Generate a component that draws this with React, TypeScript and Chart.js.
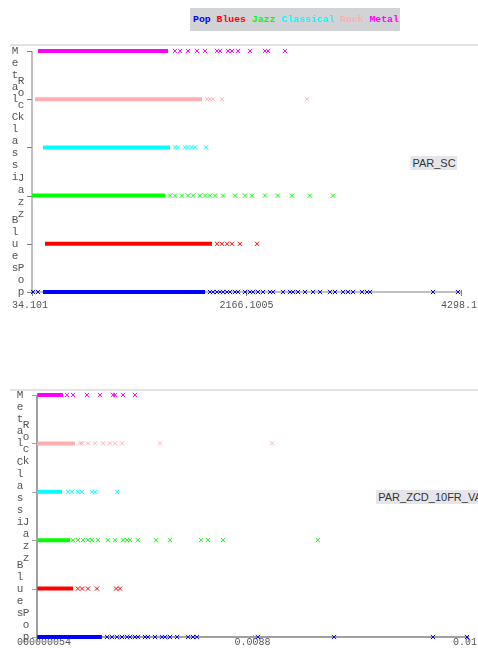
import React, { useEffect, useRef } from "react";
import { Chart, registerables } from "chart.js";
Chart.register(...registerables);

const CLASSES = ["Pop", "Blues", "Jazz", "Classical", "Rock", "Metal"];
const Y_LABELS = ["Pop", "Blues", "Jazz", "Classi", "Rock", "Metal"];
const CLASS_COLORS = ["#0000ff", "#ff0000", "#00ff00", "#00ffff", "#ffafaf", "#ff00ff"];

// ---- PAR_SC ----
const SC_NAME = "PAR_SC";
const SC_MIN = 34.101;
const SC_MAX = 4298.1;
const SC_X_TICKS = ["34.101", "2166.1005", "4298.1"];
const SC_DENSE_START = [143, 163, 34, 143, 64, 94];
const SC_DENSE_END = [1754, 1823, 1356, 1406, 1724, 1386];
const SC_POP = [44, 94, 1803, 1833, 1873, 1903, 1932, 1972, 2002, 2052, 2082, 2151, 2201, 2231, 2280, 2330, 2400, 2430, 2529, 2598, 2628, 2678, 2748, 2827, 2897, 2996, 3046, 3125, 3175, 3225, 3314, 3364, 3394, 4020, 4268];
const SC_BLUES = [1873, 1922, 1972, 2022, 2101, 2270];
const SC_JAZZ = [1406, 1455, 1525, 1585, 1634, 1704, 1754, 1803, 1853, 1932, 2052, 2151, 2221, 2350, 2479, 2618, 2797, 3026];
const SC_CLASSICAL = [1455, 1485, 1555, 1585, 1624, 1654, 1764];
const SC_ROCK = [1774, 1803, 1833, 1922, 2767];
const SC_METAL = [1455, 1505, 1585, 1674, 1754, 1873, 1903, 1982, 2022, 2082, 2201, 2350, 2380, 2549];

// ---- PAR_ZCD_10FR_VAR ----
const ZCD_NAME = "PAR_ZCD_10FR_VAR";
const ZCD_MIN = 0;
const ZCD_MAX = 0.0176;
const ZCD_X_TICKS = ["000000054", "0.0088", "0.01"];
const ZCD_DENSE_START = [0.00001, 0.00001, 0.00001, 0.00001, 0.00001, 0.00001];
const ZCD_DENSE_END = [0.00265, 0.00147, 0.00135, 0.00102, 0.00155, 0.00106];
const ZCD_POP = [0.00286, 0.00306, 0.00327, 0.00347, 0.00368, 0.0038, 0.004, 0.00412, 0.00441, 0.00453, 0.00482, 0.0051, 0.00523, 0.00543, 0.00572, 0.00617, 0.00637, 0.00653, 0.00902, 0.01213, 0.01617, 0.01756];
const ZCD_BLUES = [0.00167, 0.00184, 0.00208, 0.00245, 0.00323, 0.00339];
const ZCD_JAZZ = [0.00147, 0.00167, 0.00188, 0.00208, 0.00225, 0.00249, 0.0029, 0.00319, 0.00351, 0.00368, 0.0038, 0.00412, 0.00486, 0.00543, 0.0067, 0.00698, 0.0076, 0.01147];
const ZCD_CLASSICAL = [0.00127, 0.00143, 0.00167, 0.00184, 0.00225, 0.00237, 0.00327];
const ZCD_ROCK = [0.00176, 0.00184, 0.00208, 0.00237, 0.0027, 0.00298, 0.00319, 0.00347, 0.00502, 0.0096];
const ZCD_METAL = [0.00123, 0.00147, 0.00204, 0.00257, 0.0031, 0.00319, 0.00351, 0.004];

const TEXT_COLOR = "#555555";

const axesPlugin = {
  id: "wekaAxes",
  beforeDatasetsDraw(chart: any, _args: any, opts: any) {
    const ctx = chart.ctx;
    const xs = chart.scales.x;
    const ys = chart.scales.y;
    const left = xs.getPixelForValue(xs.min);
    const right = xs.getPixelForValue(xs.max);
    const top = ys.getPixelForValue(ys.max);
    const bottom = ys.getPixelForValue(ys.min);
    ctx.save();
    // panel border line
    ctx.strokeStyle = "#e2e2e6";
    ctx.lineWidth = 2;
    ctx.beginPath();
    ctx.moveTo(10, top - opts.borderGap);
    ctx.lineTo(chart.width, top - opts.borderGap);
    ctx.stroke();
    // axes
    ctx.strokeStyle = opts.axisColor;
    ctx.lineWidth = opts.axisWidth;
    ctx.beginPath();
    ctx.moveTo(left, top);
    ctx.lineTo(left, bottom);
    ctx.lineTo(right, bottom);
    ctx.stroke();
    ctx.lineWidth = 1;
    // y ticks
    for (let i = 0; i < CLASSES.length; i++) {
      const py = Math.round(ys.getPixelForValue(i)) + 0.5;
      ctx.beginPath();
      ctx.moveTo(left - 5, py);
      ctx.lineTo(left, py);
      ctx.stroke();
    }
    // x ticks
    const mid = (xs.min + xs.max) / 2;
    [xs.min, mid, xs.max].forEach((v) => {
      const px = Math.round(xs.getPixelForValue(v)) + 0.5;
      ctx.beginPath();
      ctx.moveTo(px, bottom - 2);
      ctx.lineTo(px, bottom + 4);
      ctx.stroke();
    });
    // x labels
    ctx.fillStyle = TEXT_COLOR;
    ctx.font = "10px 'Liberation Mono', monospace";
    ctx.textBaseline = "alphabetic";
    const ticks: string[] = opts.xTicks;
    ctx.textAlign = "left";
    ctx.fillText(ticks[0], left - 20, opts.xLabelY);
    ctx.textAlign = "center";
    ctx.fillText(ticks[1], xs.getPixelForValue(mid), opts.xLabelY);
    ctx.textAlign = "right";
    ctx.fillText(ticks[2], chart.width - 1, opts.xLabelY);
    // y labels: vertical stacked characters
    ctx.font = "11px 'Liberation Mono', monospace";
    ctx.textAlign = "center";
    ctx.textBaseline = "middle";
    const sp = 12;
    for (let i = 0; i < Y_LABELS.length; i++) {
      const txt = Y_LABELS[i];
      const n = txt.length;
      const t = ys.getPixelForValue(i);
      let start = t - ((n - 1) * sp) / 2;
      if (start < top) start = top;
      if (start + (n - 1) * sp > bottom) start = bottom - (n - 1) * sp;
      const cx = left - (i % 2 === 0 ? 11 : 17);
      for (let k = 0; k < n; k++) {
        ctx.fillText(txt[k], cx, start + k * sp);
      }
    }
    ctx.restore();
  },
};

type PlotProps = {
  min: number;
  max: number;
  xTicks: string[];
  denseStart: number[];
  denseEnd: number[];
  points: number[][];
  height: number;
  padding: { left: number; right: number; top: number; bottom: number };
  axisColor: string;
  axisWidth: number;
  xLabelY: number;
  borderGap: number;
};

function Plot(p: PlotProps) {
  const ref = useRef<HTMLCanvasElement | null>(null);
  useEffect(() => {
    if (!ref.current) return;
    const datasets: any[] = [];
    for (let i = 0; i < CLASSES.length; i++) {
      datasets.push({
        label: CLASSES[i] + " dense",
        data: [
          { x: p.denseStart[i], y: i },
          { x: p.denseEnd[i], y: i },
        ],
        showLine: true,
        borderColor: CLASS_COLORS[i],
        backgroundColor: CLASS_COLORS[i],
        borderWidth: 4,
        pointRadius: 0,
        clip: false,
        order: CLASSES.length - i,
      });
      datasets.push({
        label: CLASSES[i],
        data: p.points[i].map((x) => ({ x, y: i })),
        showLine: false,
        pointStyle: "crossRot",
        pointRadius: 3,
        borderColor: CLASS_COLORS[i],
        backgroundColor: CLASS_COLORS[i],
        borderWidth: 1,
        clip: false,
        order: CLASSES.length - i,
      });
    }
    const chart = new Chart(ref.current, {
      type: "scatter",
      data: { datasets },
      options: {
        animation: false,
        responsive: false,
        events: [],
        layout: { padding: p.padding },
        scales: {
          x: { type: "linear", min: p.min, max: p.max, display: false },
          y: { type: "linear", min: 0, max: 5, display: false },
        },
        plugins: {
          legend: { display: false },
          tooltip: { enabled: false },
          wekaAxes: {
            xTicks: p.xTicks,
            axisColor: p.axisColor,
            axisWidth: p.axisWidth,
            xLabelY: p.xLabelY,
            borderGap: p.borderGap,
          },
        } as any,
      },
      plugins: [axesPlugin],
    });
    return () => chart.destroy();
  }, []);
  return <canvas ref={ref} width={478} height={p.height} style={{ display: "block" }} />;
}

const labelBox: React.CSSProperties = {
  position: "absolute",
  transform: "translateX(-50%)",
  whiteSpace: "nowrap",
  font: "11px 'Liberation Sans', Arial, sans-serif",
  color: "#333",
  background: "#e6e6ea",
  padding: "1px 2px",
  lineHeight: "12px",
};

export default function App() {
  useEffect(() => {
    document.body.style.margin = "0";
  }, []);
  const legendSpans = CLASSES.map((c, i) => (
    <span key={c} style={{ color: CLASS_COLORS[i] }}>
      {c}
      {i < CLASSES.length - 1 ? " " : ""}
    </span>
  ));
  return (
    <div style={{ position: "relative", width: 478, height: 655, overflow: "hidden", background: "#fff" }}>
      <div
        style={{
          position: "absolute",
          left: 190,
          top: 8,
          width: 210,
          height: 23,
          background: "#d2d3d7",
          font: "bold 9.8px 'Liberation Mono', monospace",
          lineHeight: "23px",
          paddingLeft: 3,
          boxSizing: "border-box",
          whiteSpace: "pre",
        }}
      >
        {legendSpans}
      </div>
      <div style={{ position: "absolute", left: 0, top: 40 }}>
        <Plot
          min={SC_MIN}
          max={SC_MAX}
          xTicks={SC_X_TICKS}
          denseStart={SC_DENSE_START}
          denseEnd={SC_DENSE_END}
          points={[SC_POP, SC_BLUES, SC_JAZZ, SC_CLASSICAL, SC_ROCK, SC_METAL]}
          height={280}
          padding={{ left: 32, right: 17, top: 11, bottom: 28 }}
          axisColor="#808080"
          axisWidth={1}
          xLabelY={268}
          borderGap={6}
        />
      </div>
      <div style={{ ...labelBox, left: 434, top: 156 }}>{SC_NAME}</div>
      <div style={{ position: "absolute", left: 0, top: 380 }}>
        <Plot
          min={ZCD_MIN}
          max={ZCD_MAX}
          xTicks={ZCD_X_TICKS}
          denseStart={ZCD_DENSE_START}
          denseEnd={ZCD_DENSE_END}
          points={[ZCD_POP, ZCD_BLUES, ZCD_JAZZ, ZCD_CLASSICAL, ZCD_ROCK, ZCD_METAL]}
          height={275}
          padding={{ left: 37, right: 10, top: 15, bottom: 18 }}
          axisColor="#a0a0a0"
          axisWidth={2}
          xLabelY={265}
          borderGap={5}
        />
      </div>
      <div style={{ ...labelBox, left: 434, top: 490 }}>{ZCD_NAME}</div>
    </div>
  );
}
